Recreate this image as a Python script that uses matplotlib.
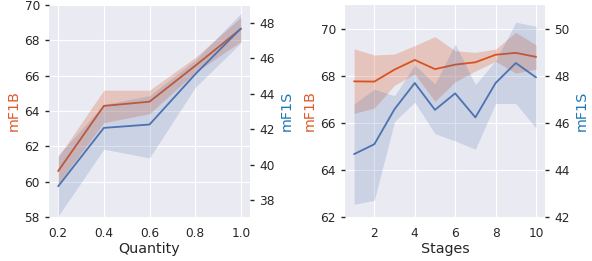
import matplotlib
matplotlib.use("Agg")
import matplotlib.pyplot as plt
import seaborn as sns

sns.set_style("darkgrid")
plt.rcParams['font.family'] = ['DejaVu Sans']

# Left panel: Quantity
quantity = [0.2, 0.4, 0.6, 0.8, 1.0]
q_b_mean = [60.6, 64.29, 64.53, 66.56, 68.65]
q_b_low = [59.9, 63.34, 63.85, 66.18, 67.94]
q_b_high = [61.4, 65.18, 65.18, 67.03, 69.31]
q_s_mean = [38.79, 42.08, 42.27, 45.1, 47.68]
q_s_low = [37.11, 40.88, 40.39, 44.36, 46.87]
q_s_high = [40.54, 43.4, 43.9, 45.9, 48.53]

# Right panel: Stages
stages = [1, 2, 3, 4, 5, 6, 7, 8, 9, 10]
s_b_mean = [67.76, 67.75, 68.26, 68.67, 68.28, 68.47, 68.57, 68.89, 68.97, 68.8]
s_b_low = [66.4, 66.63, 67.6, 68.07, 66.91, 67.74, 68.2, 68.61, 68.11, 68.28]
s_b_high = [69.14, 68.88, 68.92, 69.28, 69.66, 69.06, 68.99, 69.13, 69.84, 69.31]
s_s_mean = [44.67, 45.09, 46.58, 47.69, 46.55, 47.25, 46.23, 47.69, 48.54, 47.93]
s_s_low = [42.54, 42.71, 46.06, 46.87, 45.54, 45.23, 44.88, 46.82, 46.82, 45.77]
s_s_high = [46.8, 47.43, 47.15, 48.45, 47.65, 49.35, 47.62, 48.64, 50.27, 50.1]

c_b = "#d8531f"
c_s = "#4c72b0"
lab_b = "#e05a2b"
lab_s = "#1f77b4"
txt = "#262626"

TICK_FS = 8.7
LAB_FS = 10.3

fig = plt.figure(figsize=(5.92, 2.61), dpi=100)
axL = fig.add_axes([0.0828, 0.1686, 0.3395, 0.812])
axR = fig.add_axes([0.5828, 0.1686, 0.338, 0.812])


def panel(ax, x, bm, bl, bh, sm, sl, sh, xlabel, xlim, ylim1, ylim2, yt1, yt2, xt):
    ax.fill_between(x, bl, bh, color=c_b, alpha=0.25, linewidth=0)
    ax.plot(x, bm, color=c_b, lw=1.3)
    ax.set_xlim(*xlim)
    ax.set_ylim(*ylim1)
    ax.set_yticks(yt1)
    ax.set_xticks(xt)
    ax.set_xlabel(xlabel, fontsize=LAB_FS, color=txt, labelpad=1)
    ax.set_ylabel("mF1B", fontsize=LAB_FS, color=lab_b, labelpad=3)
    ax.tick_params(axis='y', length=3, width=1, color=txt, labelsize=TICK_FS, pad=3.5, labelcolor=txt)
    ax.tick_params(axis='x', length=0, labelsize=TICK_FS, pad=7.5, labelcolor=txt)
    ax2 = ax.twinx()
    ax2.grid(False)
    ax2.fill_between(x, sl, sh, color=c_s, alpha=0.2, linewidth=0)
    ax2.plot(x, sm, color=c_s, lw=1.3)
    ax2.set_ylim(*ylim2)
    ax2.set_yticks(yt2)
    ax2.set_ylabel("mF1S", fontsize=LAB_FS, color=lab_s, labelpad=4)
    ax2.tick_params(axis='y', length=3, width=1, color=txt, labelsize=TICK_FS, pad=3.5, labelcolor=txt)
    for sp in ax2.spines.values():
        sp.set_visible(False)
    for sp in ax.spines.values():
        sp.set_visible(False)


panel(axL, quantity, q_b_mean, q_b_low, q_b_high, q_s_mean, q_s_low, q_s_high,
      "Quantity", (0.16, 1.04), (58, 70), (37.06, 49.0),
      [58, 60, 62, 64, 66, 68, 70], [38, 40, 42, 44, 46, 48],
      [0.2, 0.4, 0.6, 0.8, 1.0])
panel(axR, stages, s_b_mean, s_b_low, s_b_high, s_s_mean, s_s_low, s_s_high,
      "Stages", (0.55, 10.45), (62, 71), (42, 51),
      [62, 64, 66, 68, 70], [42, 44, 46, 48, 50],
      [2, 4, 6, 8, 10])

fig.savefig("out.png", dpi=100)
